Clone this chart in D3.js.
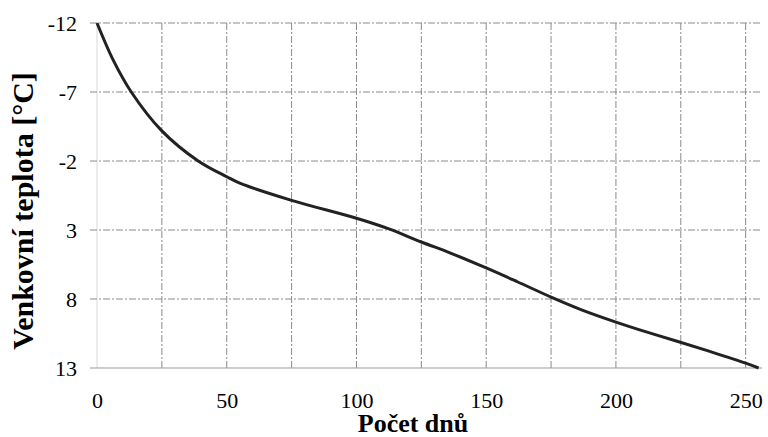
<!DOCTYPE html>
<html>
<head>
<meta charset="utf-8">
<script src="https://cdn.jsdelivr.net/npm/d3@7"></script>
<style>
  body { margin: 0; background: #fff; }
  text { font-family: "Liberation Serif", "Times New Roman", serif; }
</style>
</head>
<body>
<div id="chart"></div>
<script>
// Data
const days  = [0, 6.4, 13.2, 24.9, 39, 50, 55, 75, 100, 112.5, 125, 136, 150, 162, 175, 187, 200, 212, 224.2, 237, 250, 255];
const temps = [-12, -9.25, -7, -4.2, -2, -0.86, -0.4, 0.85, 2.15, 2.92, 3.87, 4.65, 5.75, 6.75, 7.86, 8.8, 9.67, 10.4, 11.1, 11.85, 12.65, 13];
const xTicks = [0, 50, 100, 150, 200, 250];
const xGrid  = [0, 25, 50, 75, 100, 125, 150, 175, 200, 225, 250];
const yTicks = [-12, -7, -2, 3, 8, 13];

const width = 768, height = 437;
const plot = { left: 90, right: 762, top: 23, bottom: 368 };
const serif = "'Liberation Serif', 'Times New Roman', serif";

const svg = d3.select("#chart")
  .append("svg")
  .attr("width", width)
  .attr("height", height);

// Scales (y is reversed: -12 at the top)
const x = d3.scaleLinear().domain([-2.7, 256.3]).range([plot.left, plot.right]);
const y = d3.scaleLinear().domain([-12, 13]).range([plot.top, plot.bottom]);

// Grid
svg.append("g")
  .selectAll("line")
  .data(xGrid)
  .enter().append("line")
  .attr("x1", d => x(d)).attr("x2", d => x(d))
  .attr("y1", plot.top).attr("y2", plot.bottom)
  .attr("stroke", d => d === 0 ? "#d8d8d8" : "#8a8a8a")
  .attr("stroke-width", 1)
  .attr("stroke-dasharray", d => d === 0 ? null : "7,2,2,2");

svg.append("g")
  .selectAll("line")
  .data(yTicks.slice(0, -1))
  .enter().append("line")
  .attr("x1", plot.left).attr("x2", plot.right)
  .attr("y1", d => y(d)).attr("y2", d => y(d))
  .attr("stroke", "#8a8a8a")
  .attr("stroke-width", 1)
  .attr("stroke-dasharray", "7,2,2,2");

// Bottom axis line
svg.append("line")
  .attr("x1", plot.left).attr("x2", plot.right)
  .attr("y1", y(13)).attr("y2", y(13))
  .attr("stroke", "#999");

// Axes: only their labels are shown
const xAxis = svg.append("g")
  .attr("transform", `translate(0,${plot.bottom})`)
  .call(d3.axisBottom(x).tickValues(xTicks).tickSize(0).tickPadding(24).tickFormat(d => String(d)));
xAxis.select(".domain").remove();
xAxis.selectAll("text")
  .style("font-family", serif)
  .style("font-size", "22px")
  .attr("fill", "#000");

const yAxis = svg.append("g")
  .attr("transform", `translate(${plot.left},0)`)
  .call(d3.axisLeft(y).tickValues(yTicks).tickSize(0).tickPadding(13).tickFormat(d => String(d)));
yAxis.select(".domain").remove();
yAxis.selectAll("text")
  .style("font-family", serif)
  .style("font-size", "22px")
  .attr("fill", "#000");

// Curve
const line = d3.line()
  .x((d, i) => x(days[i]))
  .y(d => y(d))
  .curve(d3.curveCatmullRom.alpha(0.5));

svg.append("path")
  .datum(temps)
  .attr("d", line)
  .attr("fill", "none")
  .attr("stroke", "#222")
  .attr("stroke-width", 3);

// Axis titles
svg.append("text")
  .attr("x", 413)
  .attr("y", 432)
  .attr("text-anchor", "middle")
  .style("font-family", serif)
  .attr("font-size", 26)
  .attr("font-weight", "bold")
  .text("Počet dnů");

svg.append("text")
  .attr("transform", "rotate(-90)")
  .attr("x", -211)
  .attr("y", 33)
  .attr("text-anchor", "middle")
  .style("font-family", serif)
  .attr("font-size", 30)
  .attr("font-weight", "bold")
  .text("Venkovní teplota [°C]");
</script>
</body>
</html>
